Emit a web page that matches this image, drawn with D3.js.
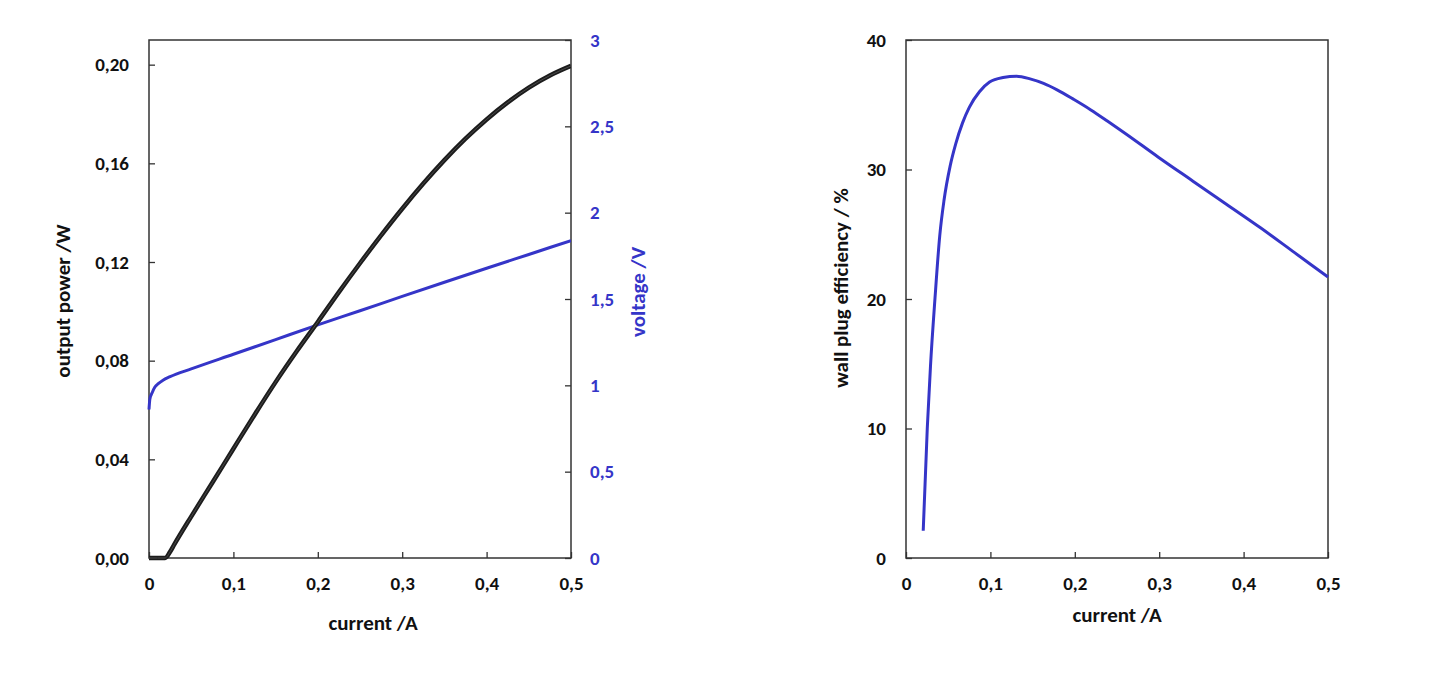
<!DOCTYPE html>
<html><head><meta charset="utf-8">
<script src="https://cdn.jsdelivr.net/npm/d3@7/dist/d3.min.js"></script>
<style>
html,body{margin:0;padding:0;background:#fff;}
svg text{font-family:Carlito,Lato,"Open Sans",sans-serif;font-weight:bold;}
</style></head>
<body><svg id="c" width="1434" height="688"></svg>
<script>
// ---- data ----
const powerCurrent = [0, 0.01, 0.019, 0.025, 0.03, 0.05, 0.075, 0.1, 0.125, 0.15, 0.175, 0.2, 0.225, 0.25, 0.275, 0.3, 0.325, 0.35, 0.375, 0.4, 0.425, 0.45, 0.475, 0.5];
const powerW = [0, 0, 0, 0.0025, 0.0055, 0.0168, 0.0305, 0.0443, 0.058, 0.0713, 0.0838, 0.0957, 0.1078, 0.1195, 0.1308, 0.1416, 0.1518, 0.1613, 0.1700, 0.1778, 0.1847, 0.1907, 0.1956, 0.1995];
const voltCurrent = [0, 0.001, 0.004, 0.007, 0.011, 0.0166, 0.025, 0.05, 0.1, 0.15, 0.2, 0.25, 0.3, 0.35, 0.4, 0.45, 0.5];
const voltV = [0.86, 0.92, 0.96, 0.99, 1.01, 1.03, 1.05, 1.095, 1.18, 1.265, 1.35, 1.432, 1.515, 1.597, 1.678, 1.758, 1.838];
const effCurrent = [0.0204, 0.0252, 0.029, 0.0344, 0.040, 0.045, 0.0524, 0.059, 0.067, 0.075, 0.087, 0.099, 0.115, 0.131, 0.147, 0.163, 0.179, 0.199, 0.219, 0.239, 0.259, 0.299, 0.34, 0.38, 0.42, 0.46, 0.5];
const effPct = [2.1, 10.0, 14.8, 20.1, 24.9, 27.6, 30.3, 32.0, 33.6, 34.8, 36.0, 36.75, 37.1, 37.2, 37.0, 36.65, 36.15, 35.4, 34.6, 33.72, 32.82, 30.95, 29.1, 27.3, 25.5, 23.6, 21.7];
const xTicks = [0, 0.1, 0.2, 0.3, 0.4, 0.5];
const powerTicks = [0, 0.04, 0.08, 0.12, 0.16, 0.20];
const voltTicks = [0, 0.5, 1, 1.5, 2, 2.5, 3];
const effTicks = [0, 10, 20, 30, 40];

const svg = d3.select("#c");
const blue = "#3535c8";
const axisCol = "#333";
const comma = s => s.replace(".", ",");
const tickFont = "19px";
const labelFont = "21px";

function styleAxis(g, color) {
  g.select(".domain").remove();
  g.selectAll(".tick line").attr("stroke", axisCol).attr("stroke-width", 1.3);
  g.selectAll(".tick text").attr("fill", color).style("font-size", tickFont);
}

// ---- left chart ----
const L = {x0: 149, x1: 571, y0: 40, y1: 558};
const xL = d3.scaleLinear().domain([0, 0.5]).range([L.x0, L.x1]);
const yP = d3.scaleLinear().domain([0, 0.21]).range([L.y1, L.y0]);
const yV = d3.scaleLinear().domain([0, 3]).range([L.y1, L.y0]);

svg.append("g").attr("transform", `translate(0,${L.y1})`)
  .call(d3.axisBottom(xL).tickValues(xTicks).tickSizeInner(-6).tickSizeOuter(0).tickPadding(19)
    .tickFormat(d => comma(d === 0 ? "0" : d3.format(".1f")(d))))
  .call(g => styleAxis(g, "#111"));
svg.append("g").attr("transform", `translate(${L.x0},0)`)
  .call(d3.axisLeft(yP).tickValues(powerTicks).tickSizeInner(-6).tickSizeOuter(0).tickPadding(20)
    .tickFormat(d => comma(d3.format(".2f")(d))))
  .call(g => styleAxis(g, "#111"));
svg.append("g").attr("transform", `translate(${L.x1},0)`)
  .call(d3.axisRight(yV).tickValues(voltTicks).tickSizeInner(-6).tickSizeOuter(0).tickPadding(19)
    .tickFormat(d => comma(String(d))))
  .call(g => styleAxis(g, blue));

svg.append("rect").attr("x", L.x0).attr("y", L.y0).attr("width", L.x1 - L.x0).attr("height", L.y1 - L.y0)
  .attr("fill", "none").attr("stroke", axisCol).attr("stroke-width", 1.5);

svg.append("clipPath").attr("id", "clipL").append("rect")
  .attr("x", L.x0 - 3).attr("y", L.y0).attr("width", L.x1 - L.x0 + 3).attr("height", L.y1 - L.y0 + 3);

const powerData = powerCurrent.map((c, i) => [c, powerW[i]]);
const voltData = voltCurrent.map((c, i) => [c, voltV[i]]);
svg.append("path").datum(voltData)
  .attr("d", d3.line().x(d => xL(d[0])).y(d => yV(d[1])).curve(d3.curveMonotoneX))
  .attr("fill", "none").attr("stroke", blue).attr("stroke-width", 3).attr("clip-path", "url(#clipL)");
const pLine = d3.line().x(d => xL(d[0])).y(d => yP(d[1])).curve(d3.curveMonotoneX);
svg.append("path").datum(powerData).attr("d", pLine)
  .attr("fill", "none").attr("stroke", "#1c1c1c").attr("stroke-width", 4.5).attr("clip-path", "url(#clipL)");
svg.append("path").datum(powerData).attr("d", pLine)
  .attr("fill", "none").attr("stroke", "#4a4a4a").attr("stroke-width", 1).attr("clip-path", "url(#clipL)");

svg.append("text").attr("x", 373).attr("y", 630).attr("text-anchor", "middle")
  .style("font-size", labelFont).attr("fill", "#111").text("current /A");
svg.append("text").attr("transform", `translate(70,301) rotate(-90)`)
  .attr("text-anchor", "middle").style("font-size", labelFont).attr("fill", "#111").text("output power /W");
svg.append("text").attr("transform", `translate(645,292) rotate(-90)`)
  .attr("text-anchor", "middle").style("font-size", labelFont).attr("fill", blue).text("voltage /V");

// ---- right chart ----
const R = {x0: 906, x1: 1328, y0: 40, y1: 558};
const xR = d3.scaleLinear().domain([0, 0.5]).range([R.x0, R.x1]);
const yE = d3.scaleLinear().domain([0, 40]).range([R.y1, R.y0]);

svg.append("g").attr("transform", `translate(0,${R.y1})`)
  .call(d3.axisBottom(xR).tickValues(xTicks).tickSizeInner(-6).tickSizeOuter(0).tickPadding(19)
    .tickFormat(d => comma(d === 0 ? "0" : d3.format(".1f")(d))))
  .call(g => styleAxis(g, "#111"));
svg.append("g").attr("transform", `translate(${R.x0},0)`)
  .call(d3.axisLeft(yE).tickValues(effTicks).tickSizeInner(-6).tickSizeOuter(0).tickPadding(20)
    .tickFormat(d3.format("d")))
  .call(g => styleAxis(g, "#111"));
svg.append("rect").attr("x", R.x0).attr("y", R.y0).attr("width", R.x1 - R.x0).attr("height", R.y1 - R.y0)
  .attr("fill", "none").attr("stroke", axisCol).attr("stroke-width", 1.5);

const effData = effCurrent.map((c, i) => [c, effPct[i]]);
svg.append("path").datum(effData)
  .attr("d", d3.line().x(d => xR(d[0])).y(d => yE(d[1])).curve(d3.curveMonotoneX))
  .attr("fill", "none").attr("stroke", blue).attr("stroke-width", 3);

svg.append("text").attr("x", 1117).attr("y", 622).attr("text-anchor", "middle")
  .style("font-size", labelFont).attr("fill", "#111").text("current /A");
svg.append("text").attr("transform", `translate(848,288) rotate(-90)`)
  .attr("text-anchor", "middle").style("font-size", labelFont).attr("fill", "#111").text("wall plug efficiency / %");
</script></body></html>
